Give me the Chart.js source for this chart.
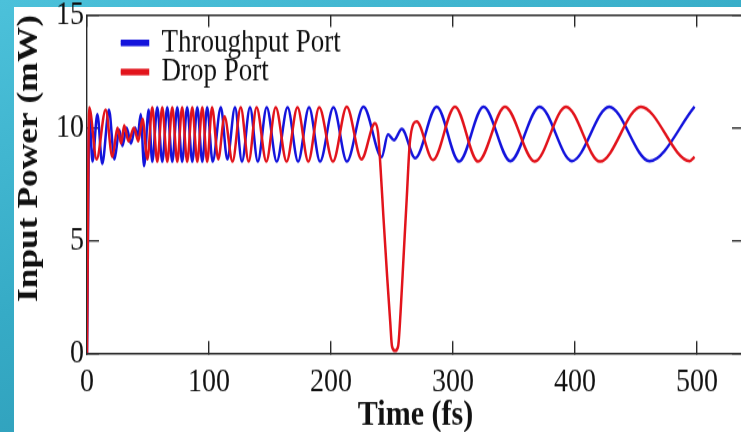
<!DOCTYPE html>
<html>
<head>
<meta charset="utf-8">
<script src="https://cdn.jsdelivr.net/npm/chart.js@4.4.1/dist/chart.umd.min.js"></script>
<style>
  html, body { margin: 0; padding: 0; width: 741px; height: 432px; overflow: hidden; }
  body { position: relative; background: linear-gradient(160deg, #4cc1da 0%, #36abc6 45%, #2892ae 100%); }
  #paper { position: absolute; left: 14px; top: 7px; width: 760px; height: 440px; background: #fff; }
  #myChart { position: absolute; left: 0; top: 0; }
</style>
</head>
<body>
<div id="paper"></div>
<!-- the source figure is stretched vertically, so the canvas is drawn at 760x360 and shown at 760x432 -->
<canvas id="myChart" width="760" height="360" style="width:760px;height:432px"></canvas>
<script>
// values (time in fs, power in mW)
const throughputTime = [0, 2, 4.5, 8.5, 12.5, 18, 22.5, 26.5, 29, 32.5, 36, 39.5, 41.5, 44, 46.8, 50.5, 53.5,
  57.6, 61.7, 65.8, 69.9, 74, 78, 82.1, 86.3, 90.4, 94.5, 98.5, 103, 109.7, 115, 121.3, 127, 133.6, 140,
  147.3, 155.5, 164.4, 173, 182, 191, 202, 213, 226.6, 241.5, 246.7, 251.6, 258, 269, 286.6, 305, 325,
  347, 371, 397.5, 428, 461, 498];
const throughputPower = [0, 10.5, 8.5, 10.6, 8.4, 10.8, 8.6, 9.9, 9.2, 10.0, 9.3, 10.0, 9.6, 10.6, 8.3, 10.8, 8.5,
  10.9, 8.5, 10.9, 8.5, 10.9, 8.5, 10.9, 8.5, 10.9, 8.5, 10.9, 8.5, 10.9, 8.6, 10.9, 8.5, 10.9, 8.5,
  10.9, 8.5, 10.9, 8.5, 10.9, 8.5, 10.9, 8.5, 10.93, 8.7, 9.7, 9.45, 9.94, 8.65, 10.93, 8.5, 10.93,
  8.52, 10.93, 8.52, 10.93, 8.52, 10.93];

const dropTime = [0, 1.8, 7.9, 15.3, 20.8, 25, 28, 30.5, 34, 38.5, 42, 45.5, 49.5, 53.5, 57.6, 61.7, 65.8,
  69.9, 74, 78, 82.1, 86.3, 90.4, 94.5, 98.5, 102.5, 107.6, 112.7, 119.3, 126, 132.5, 139, 147, 154.7,
  163.6, 172.5, 181.4, 190.3, 201.6, 212.9, 225, 236, 238.5, 240.5, 243, 246, 248.5, 250, 252.5, 255,
  257, 259.5, 262, 264.8, 270.2, 283.6, 301.6, 320.5, 342.6, 367, 392.6, 420.5, 454, 494, 498];
const dropPower = [0, 10.9, 8.6, 10.8, 8.7, 10.0, 9.3, 10.1, 9.4, 10.0, 9.4, 10.4, 8.6, 10.9, 8.5, 10.9, 8.5,
  10.9, 8.5, 10.9, 8.5, 10.9, 8.5, 10.9, 8.5, 10.9, 8.6, 10.5, 8.5, 10.9, 8.5, 10.9, 8.5, 10.9,
  8.5, 10.9, 8.5, 10.9, 8.5, 10.93, 8.6, 10.2, 9.8, 8.3, 6.0, 3.4, 1.4, 0.3, 0.1, 0.3,
  1.8, 4.3, 6.8, 9.45, 10.27, 8.57, 10.93, 8.5, 10.93, 8.5, 10.93, 8.5, 10.93, 8.52, 8.7];

const xTicks = [0, 100, 200, 300, 400, 500];
const yTicks = [0, 5, 10, 15];

const serif = 'Liberation Serif';
Chart.defaults.font.family = serif;
Chart.defaults.color = '#111';

const frame = '#2a2a2a';
const xGrid = { drawOnChartArea: false, tickLength: -10, color: frame, lineWidth: 1.4 };
const yGrid = { drawOnChartArea: false, tickLength: -12, color: frame, lineWidth: 1.4 };
const frameBorder = { color: frame, width: 1.4 };
const tickFont = { family: serif, size: 28 };

// moves the legend into the top-left corner of the plot
const legendSpot = {
  id: 'legendSpot',
  afterLayout(chart) {
    chart.legend.left = 120.8;
    chart.legend.top = 25.1;
    chart.legend.bottom = 290;
  }
};

const ctx = document.getElementById('myChart').getContext('2d');

const chart = new Chart(ctx, {
  type: 'line',
  data: {
    datasets: [
      {
        label: 'Throughput Port',
        data: throughputTime.map((t, i) => ({ x: t, y: throughputPower[i] })),
        borderColor: '#1414dc',
        backgroundColor: '#1414dc',
        borderWidth: 2.5,
        pointRadius: 0,
        cubicInterpolationMode: 'monotone',
        order: 1
      },
      {
        label: 'Drop Port',
        data: dropTime.map((t, i) => ({ x: t, y: dropPower[i] })),
        borderColor: '#e2141c',
        backgroundColor: '#e2141c',
        borderWidth: 2.5,
        pointRadius: 0,
        cubicInterpolationMode: 'monotone',
        order: 0
      }
    ]
  },
  options: {
    responsive: false,
    animation: false,
    layout: { padding: 0 },
    scales: {
      x: {
        type: 'linear', position: 'bottom', min: 0, max: 538.5,
        afterBuildTicks: s => { s.ticks = xTicks.map(v => ({ value: v })); },
        afterFit: s => { s.height = 65.8; s.paddingLeft = 0; s.paddingRight = 0; },
        ticks: { font: tickFont, color: '#111', padding: 17.6, maxRotation: 0, autoSkip: false },
        grid: xGrid,
        border: frameBorder,
        title: {
          display: true, text: 'Time (fs)', color: '#111',
          font: { family: serif, size: 30, weight: 'bold', lineHeight: 0.9 },
          padding: 0
        }
      },
      xTop: {
        type: 'linear', position: 'top', min: 0, max: 538.5,
        afterBuildTicks: s => { s.ticks = xTicks.map(v => ({ value: v })); },
        afterFit: s => { s.height = 12.5; s.paddingLeft = 0; s.paddingRight = 0; },
        ticks: { display: false },
        grid: xGrid,
        border: frameBorder
      },
      y: {
        type: 'linear', position: 'left', min: 0, max: 15,
        afterBuildTicks: s => { s.ticks = yTicks.map(v => ({ value: v })); },
        afterFit: s => { s.width = 87; s.paddingTop = 0; s.paddingBottom = 0; },
        ticks: { font: tickFont, color: '#111', padding: 15 },
        grid: yGrid,
        border: frameBorder,
        title: {
          display: true, text: 'Input Power (mW)', color: '#111', align: 'end',
          font: { family: serif, size: 29.5, weight: 'bold' },
          padding: { top: 11.3, bottom: 0 }
        }
      },
      yRight: {
        type: 'linear', position: 'right', min: 0, max: 15,
        afterBuildTicks: s => { s.ticks = yTicks.map(v => ({ value: v })); },
        afterFit: s => { s.width = 16; s.paddingTop = 0; s.paddingBottom = 0; },
        ticks: { display: false },
        grid: yGrid,
        border: frameBorder
      }
    },
    plugins: {
      legend: {
        position: 'chartArea',
        align: 'start',
        labels: {
          font: { family: serif, size: 27 },
          color: '#111',
          boxWidth: 30,
          boxHeight: 3,
          padding: -2.8,
          sort: (a, b) => a.datasetIndex - b.datasetIndex
        }
      },
      tooltip: { enabled: false }
    }
  },
  plugins: [legendSpot]
});
</script>
</body>
</html>
